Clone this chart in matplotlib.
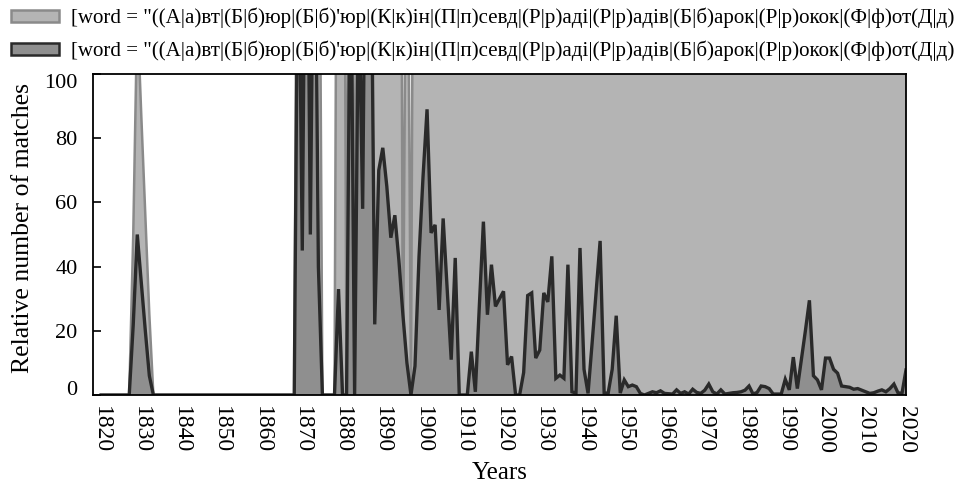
import matplotlib
matplotlib.use("Agg")
import matplotlib.pyplot as plt
from matplotlib.patches import Patch

plt.rcParams['font.family'] = ['Liberation Serif', 'DejaVu Serif']

# years 1820..2020
years = list(range(1820, 2021))

# light series (values above 100 are off the scale)
light = [
    0, 0, 0, 0, 0, 0, 0, 0, 50, 120,            # 1820
    87, 56, 25, 0, 0, 0, 0, 0, 0, 0,            # 1830
    0, 0, 0, 0, 0, 0, 0, 0, 0, 0,               # 1840
    0, 0, 0, 0, 0, 0, 0, 0, 0, 0,               # 1850
    0, 0, 0, 0, 0, 0, 0, 0, 0, 250,             # 1860
    60, 300, 70, 280, 220, 0, 0, 0, 0, 300,     # 1870
    300, 0, 300, 0, 300, 120, 400, 400, 400, 400,  # 1880
    400, 400, 400, 400, 400, 0, 200, 0, 300, 400,  # 1890
    400, 400, 400, 400, 400, 400, 400, 400, 400, 400,  # 1900
    400, 400, 400, 400, 400, 400, 400, 400, 400, 400,  # 1910
    400, 400, 400, 400, 400, 400, 400, 400, 400, 400,  # 1920
    400, 400, 400, 400, 400, 400, 400, 400, 400, 400,  # 1930
    400, 400, 400, 400, 400, 400, 400, 400, 400, 400,  # 1940
    400, 400, 400, 400, 400, 400, 400, 400, 400, 400,  # 1950
    400, 400, 400, 400, 400, 400, 400, 400, 400, 400,  # 1960
    400, 400, 400, 400, 400, 400, 400, 400, 400, 400,  # 1970
    400, 400, 400, 400, 400, 400, 400, 400, 400, 400,  # 1980
    400, 400, 400, 400, 400, 400, 400, 400, 400, 400,  # 1990
    400, 400, 400, 400, 400, 400, 400, 400, 400, 400,  # 2000
    400, 400, 400, 400, 400, 400, 400, 400, 400, 400,  # 2010
    400,                                               # 2020
]

# dark series
dark = [
    0, 0, 0, 0, 0, 0, 0, 0, 22, 50,             # 1820
    35, 20, 6, 0, 0, 0, 0, 0, 0, 0,             # 1830
    0, 0, 0, 0, 0, 0, 0, 0, 0, 0,               # 1840
    0, 0, 0, 0, 0, 0, 0, 0, 0, 0,               # 1850
    0, 0, 0, 0, 0, 0, 0, 0, 0, 160,             # 1860
    45, 200, 50, 180, 40, 0, 0, 0, 0, 33,       # 1870
    0, 0, 150, 0, 130, 58, 200, 160, 22, 70,    # 1880
    77, 65, 49, 56, 42, 25, 10, 0, 9, 43,               # 1890
    68, 89, 50.5, 53, 26.5, 55, 33, 11, 42.7, 0,        # 1900
    0, 0, 13.5, 1, 28, 54, 25, 40.6, 27.6, 30,          # 1910
    32.3, 9.4, 12, 0, 0, 7, 31, 31.8, 11.5, 14,         # 1920
    31.8, 29, 43.2, 5.2, 6.2, 5.2, 40.6, 1, 0.6, 45.8,  # 1930
    8, 0.5, 16, 32, 48, 0.6, 0.6, 8, 24.7, 0.6,         # 1940
    4.7, 2.6, 3.1, 2.6, 0.5, 0, 0.5, 1, 0.7, 1.3,       # 1950
    0.5, 0.4, 0.3, 1.6, 0.5, 1, 0.3, 1.8, 0.8, 0.5,     # 1960
    1.5, 3.4, 1, 0.3, 1.6, 0.3, 0.5, 0.7, 0.8, 1,       # 1970
    1.5, 2.8, 0.3, 0.8, 2.8, 2.6, 2, 0.3, 0.3, 0.3,     # 1980
    4.9, 1.6, 11.8, 2, 11, 20, 29.5, 6, 4.7, 1.6,       # 1990
    11.5, 11.5, 8, 6.8, 2.8, 2.6, 2.4, 1.8, 2, 1.5,     # 2000
    1, 0.5, 0.7, 1.2, 1.6, 1, 2, 3.4, 0.7, 0.5,         # 2010
    7.8,                                                # 2020
]

legend_text = "[word = \"((А|а)вт|(Б|б)юр|(Б|б)'юр|(К|к)ін|(П|п)севд|(Р|р)аді|(Р|р)адів|(Б|б)арок|(Р|р)окок|(Ф|ф)от(Д|д)"
legend_labels = [legend_text, legend_text]

x_ticks = list(range(1820, 2021, 10))
y_ticks = [0, 20, 40, 60, 80, 100]

light_face = "#b4b4b4"
light_edge = "#8a8a8a"
dark_face = "#8f8f8f"
dark_edge = "#2a2a2a"

fig = plt.figure(figsize=(9.58, 4.84), dpi=100)
ax = fig.add_axes([93 / 958, 1 - 395 / 484, (906 - 93) / 958, (395 - 74) / 484])

# light series
ax.fill_between(years, light, 0, facecolor=light_face, edgecolor="none", zorder=1)
ax.plot(years, light, color=light_edge, linewidth=1.8, zorder=2)
# dark series on top
ax.fill_between(years, dark, 0, facecolor=dark_face, edgecolor="none", zorder=3)
ax.plot(years, dark, color=dark_edge, linewidth=2.4, solid_joinstyle="miter", zorder=4)

ax.set_xlim(1818, 2020)
ax.set_ylim(0, 100)

ax.set_xticks(x_ticks)
ax.set_xticklabels([str(v) for v in x_ticks], rotation=270, fontsize=17)
ax.tick_params(axis="x", length=0, pad=8)

ax.set_yticks(y_ticks)
ax.set_yticklabels([str(v) for v in y_ticks], fontsize=16)
ax.tick_params(axis="y", direction="in", length=6, width=1.2, pad=11)
# keep the end labels inside the axes height
ylabels = ax.get_yticklabels()
ylabels[0].set_va("baseline")
ylabels[-1].set_va("top")

for sp in ax.spines.values():
    sp.set_linewidth(1.3)
    sp.set_color("black")
    sp.set_zorder(10)

ax.set_xlabel("Years", fontsize=18, labelpad=6)
ax.set_ylabel("Relative number of matches", fontsize=18.5)
ax.yaxis.set_label_coords(-0.072, 0.52)

handles = [
    Patch(facecolor=light_face, edgecolor=light_edge, linewidth=1.8),
    Patch(facecolor=dark_face, edgecolor=dark_edge, linewidth=1.8),
]
fig.legend(handles, legend_labels, loc="upper left", bbox_to_anchor=(-0.004, 1.014),
           frameon=False, fontsize=15.1, handlelength=2.3, handleheight=0.45,
           handletextpad=0.56, labelspacing=0.6, borderpad=0.2)

fig.savefig("out.png", dpi=100)
